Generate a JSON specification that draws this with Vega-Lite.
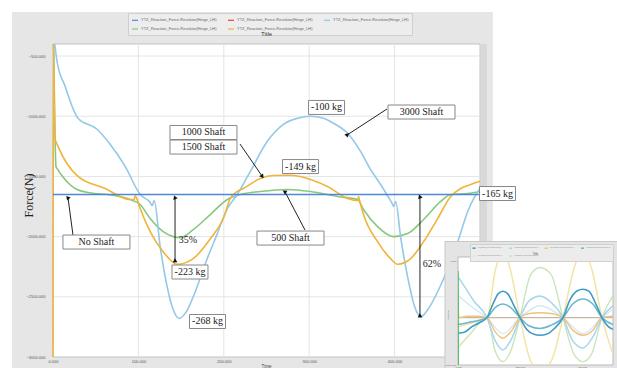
{
  "$schema": "https://vega.github.io/schema/vega-lite/v6.json",
  "background": "white",
  "padding": {"left": 12, "top": 11, "right": 0, "bottom": 0},
  "autosize": {"type": "pad"},
  "config": {"view": {"stroke": null}, "font": "Liberation Sans"},
  "datasets": {
    "curves": [
      {"s": "500 Shaft", "t": 0.8, "f": -400}, {"s": "500 Shaft", "t": 3.5, "f": -1417}, {"s": "500 Shaft", "t": 4.7, "f": -1433},
      {"s": "500 Shaft", "t": 14.1, "f": -1525}, {"s": "500 Shaft", "t": 28.2, "f": -1608}, {"s": "500 Shaft", "t": 49.3, "f": -1642},
      {"s": "500 Shaft", "t": 63.3, "f": -1650}, {"s": "500 Shaft", "t": 90.3, "f": -1692}, {"s": "500 Shaft", "t": 102.1, "f": -1733},
      {"s": "500 Shaft", "t": 113.8, "f": -1850}, {"s": "500 Shaft", "t": 129, "f": -1958}, {"s": "500 Shaft", "t": 140.8, "f": -2000},
      {"s": "500 Shaft", "t": 149, "f": -2008}, {"s": "500 Shaft", "t": 164.2, "f": -1942}, {"s": "500 Shaft", "t": 184.2, "f": -1817},
      {"s": "500 Shaft", "t": 204.1, "f": -1692}, {"s": "500 Shaft", "t": 219.4, "f": -1650}, {"s": "500 Shaft", "t": 242.8, "f": -1625},
      {"s": "500 Shaft", "t": 274.5, "f": -1608}, {"s": "500 Shaft", "t": 301.5, "f": -1625}, {"s": "500 Shaft", "t": 333.1, "f": -1667},
      {"s": "500 Shaft", "t": 356.6, "f": -1692}, {"s": "500 Shaft", "t": 363.6, "f": -1775}, {"s": "500 Shaft", "t": 380, "f": -1917},
      {"s": "500 Shaft", "t": 398.8, "f": -2000}, {"s": "500 Shaft", "t": 415.2, "f": -1975}, {"s": "500 Shaft", "t": 434, "f": -1858},
      {"s": "500 Shaft", "t": 454, "f": -1708}, {"s": "500 Shaft", "t": 465.7, "f": -1650}, {"s": "500 Shaft", "t": 485.6, "f": -1642},
      {"s": "500 Shaft", "t": 500, "f": -1625},

      {"s": "3000 Shaft", "t": 2, "f": -400}, {"s": "3000 Shaft", "t": 4.7, "f": -542}, {"s": "3000 Shaft", "t": 14.1, "f": -750},
      {"s": "3000 Shaft", "t": 29.3, "f": -1017}, {"s": "3000 Shaft", "t": 51.6, "f": -1108}, {"s": "3000 Shaft", "t": 66.9, "f": -1233},
      {"s": "3000 Shaft", "t": 84.5, "f": -1417}, {"s": "3000 Shaft", "t": 102.1, "f": -1650}, {"s": "3000 Shaft", "t": 113.8, "f": -1717},
      {"s": "3000 Shaft", "t": 116.1, "f": -1742}, {"s": "3000 Shaft", "t": 118.5, "f": -1700}, {"s": "3000 Shaft", "t": 125.5, "f": -2083},
      {"s": "3000 Shaft", "t": 133.7, "f": -2417}, {"s": "3000 Shaft", "t": 140.8, "f": -2608}, {"s": "3000 Shaft", "t": 147.8, "f": -2680},
      {"s": "3000 Shaft", "t": 156, "f": -2625}, {"s": "3000 Shaft", "t": 166.6, "f": -2458}, {"s": "3000 Shaft", "t": 178.3, "f": -2225},
      {"s": "3000 Shaft", "t": 192.4, "f": -1975}, {"s": "3000 Shaft", "t": 204.1, "f": -1767}, {"s": "3000 Shaft", "t": 215.8, "f": -1650},
      {"s": "3000 Shaft", "t": 231.1, "f": -1458}, {"s": "3000 Shaft", "t": 251, "f": -1208}, {"s": "3000 Shaft", "t": 269.8, "f": -1067},
      {"s": "3000 Shaft", "t": 286.2, "f": -1017}, {"s": "3000 Shaft", "t": 301.5, "f": -1000}, {"s": "3000 Shaft", "t": 316.7, "f": -1017},
      {"s": "3000 Shaft", "t": 328.4, "f": -1058}, {"s": "3000 Shaft", "t": 344.9, "f": -1142}, {"s": "3000 Shaft", "t": 360.1, "f": -1292},
      {"s": "3000 Shaft", "t": 371.8, "f": -1442}, {"s": "3000 Shaft", "t": 383.6, "f": -1567}, {"s": "3000 Shaft", "t": 393, "f": -1675},
      {"s": "3000 Shaft", "t": 397.7, "f": -1733}, {"s": "3000 Shaft", "t": 398.8, "f": -1750}, {"s": "3000 Shaft", "t": 401.2, "f": -1708},
      {"s": "3000 Shaft", "t": 407, "f": -2000}, {"s": "3000 Shaft", "t": 415.2, "f": -2333}, {"s": "3000 Shaft", "t": 423.5, "f": -2583},
      {"s": "3000 Shaft", "t": 430.5, "f": -2667}, {"s": "3000 Shaft", "t": 438.7, "f": -2608}, {"s": "3000 Shaft", "t": 450.4, "f": -2458},
      {"s": "3000 Shaft", "t": 462.2, "f": -2267}, {"s": "3000 Shaft", "t": 474, "f": -2042}, {"s": "3000 Shaft", "t": 485.6, "f": -1792},
      {"s": "3000 Shaft", "t": 493.8, "f": -1667}, {"s": "3000 Shaft", "t": 500, "f": -1600},

      {"s": "1500 Shaft", "t": 0, "f": -3000}, {"s": "1500 Shaft", "t": 0.5, "f": -400}, {"s": "1500 Shaft", "t": 2.3, "f": -1183},
      {"s": "1500 Shaft", "t": 5.9, "f": -1250}, {"s": "1500 Shaft", "t": 29.3, "f": -1500}, {"s": "1500 Shaft", "t": 61, "f": -1600},
      {"s": "1500 Shaft", "t": 90.3, "f": -1692}, {"s": "1500 Shaft", "t": 95, "f": -1692}, {"s": "1500 Shaft", "t": 96.2, "f": -1658},
      {"s": "1500 Shaft", "t": 98.5, "f": -1692}, {"s": "1500 Shaft", "t": 102.1, "f": -1767}, {"s": "1500 Shaft", "t": 113.8, "f": -1958},
      {"s": "1500 Shaft", "t": 129, "f": -2125}, {"s": "1500 Shaft", "t": 145.5, "f": -2230}, {"s": "1500 Shaft", "t": 164.2, "f": -2183},
      {"s": "1500 Shaft", "t": 184.2, "f": -2017}, {"s": "1500 Shaft", "t": 199.4, "f": -1850}, {"s": "1500 Shaft", "t": 207.6, "f": -1683},
      {"s": "1500 Shaft", "t": 215.8, "f": -1625}, {"s": "1500 Shaft", "t": 222.9, "f": -1600}, {"s": "1500 Shaft", "t": 242.8, "f": -1517},
      {"s": "1500 Shaft", "t": 258.1, "f": -1492}, {"s": "1500 Shaft", "t": 274.5, "f": -1490}, {"s": "1500 Shaft", "t": 289.7, "f": -1500},
      {"s": "1500 Shaft", "t": 301.5, "f": -1525}, {"s": "1500 Shaft", "t": 321.4, "f": -1583}, {"s": "1500 Shaft", "t": 344.9, "f": -1683},
      {"s": "1500 Shaft", "t": 354.3, "f": -1700}, {"s": "1500 Shaft", "t": 356.6, "f": -1700}, {"s": "1500 Shaft", "t": 357.8, "f": -1667},
      {"s": "1500 Shaft", "t": 359, "f": -1700}, {"s": "1500 Shaft", "t": 363.6, "f": -1817}, {"s": "1500 Shaft", "t": 380, "f": -2042},
      {"s": "1500 Shaft", "t": 395.3, "f": -2183}, {"s": "1500 Shaft", "t": 403.5, "f": -2230}, {"s": "1500 Shaft", "t": 418.8, "f": -2183},
      {"s": "1500 Shaft", "t": 434, "f": -2042}, {"s": "1500 Shaft", "t": 450.4, "f": -1850}, {"s": "1500 Shaft", "t": 465.7, "f": -1667},
      {"s": "1500 Shaft", "t": 477.4, "f": -1600}, {"s": "1500 Shaft", "t": 489.1, "f": -1567}, {"s": "1500 Shaft", "t": 500, "f": -1540},

      {"s": "No Shaft", "t": 0, "f": -1650}, {"s": "No Shaft", "t": 250, "f": -1650}, {"s": "No Shaft", "t": 500, "f": -1650}
    ],
    "labels": [
      {"text": "1000 Shaft", "t": 176.2, "f": -1135, "box": "long"},
      {"text": "1500 Shaft", "t": 176.2, "f": -1256, "box": "long"},
      {"text": "3000 Shaft", "t": 431.5, "f": -965, "box": "long"},
      {"text": "500 Shaft", "t": 278.1, "f": -2012, "box": "long"},
      {"text": "No Shaft", "t": 50.9, "f": -2045, "box": "long"},
      {"text": "-100 kg", "t": 320.3, "f": -927, "box": "short"},
      {"text": "-149 kg", "t": 289.8, "f": -1418, "box": "short"},
      {"text": "-165 kg", "t": 520.5, "f": -1642, "box": "short"},
      {"text": "-223 kg", "t": 160.4, "f": -2294, "box": "short"},
      {"text": "-268 kg", "t": 180.9, "f": -2705, "box": "short"},
      {"text": "35%", "t": 158.1, "f": -2028, "box": "none"},
      {"text": "62%", "t": 443.8, "f": -2227, "box": "none"}
    ],
    "arrows": [
      {"t": 219.0, "f": -1231, "t2": 244.7, "f2": -1496},
      {"t": 391.1, "f": -940, "t2": 344.3, "f2": -1156},
      {"t": 295.1, "f": -1945, "t2": 271.7, "f2": -1629},
      {"t": 23.4, "f": -1987, "t2": 17.6, "f2": -1679},
      {"t": 142.9, "f": -1679, "t2": 142.9, "f2": -2203},
      {"t": 429.7, "f": -1671, "t2": 429.7, "f2": -2659}
    ],
    "heads": [
      {"head": "a1500", "t": 244.7, "f": -1496},
      {"head": "a3000", "t": 344.3, "f": -1156},
      {"head": "a500", "t": 271.7, "f": -1629},
      {"head": "aNo", "t": 17.6, "f": -1679},
      {"head": "up", "t": 142.9, "f": -1679},
      {"head": "down", "t": 142.9, "f": -2203},
      {"head": "up", "t": 429.7, "f": -1671},
      {"head": "down", "t": 429.7, "f": -2659}
    ],
    "gridX": [{"t": 100}, {"t": 200}, {"t": 300}, {"t": 400}],
    "gridY": [{"f": -500}, {"f": -1000}, {"f": -1500}, {"f": -2000}, {"f": -2500}],
    "inset": [
      {"s": "h", "t": 0, "v": -1640}, {"s": "h", "t": 500, "v": -1640},
      {"s": "d", "t": 0, "v": -1900}, {"s": "d", "t": 40, "v": -1800}, {"s": "d", "t": 93.5, "v": -1640}, {"s": "d", "t": 120, "v": -300},
      {"s": "d", "t": 145, "v": 300}, {"s": "d", "t": 170, "v": -300}, {"s": "d", "t": 200, "v": -1640}, {"s": "d", "t": 235, "v": -2900},
      {"s": "d", "t": 264.5, "v": -3150}, {"s": "d", "t": 300, "v": -2900}, {"s": "d", "t": 338.7, "v": -1640}, {"s": "d", "t": 375, "v": -200},
      {"s": "d", "t": 403, "v": 300}, {"s": "d", "t": 430, "v": -200}, {"s": "d", "t": 464.5, "v": -1640}, {"s": "d", "t": 500, "v": -2700},
      {"s": "f", "t": 0, "v": -2500}, {"s": "f", "t": 40, "v": -2100}, {"s": "f", "t": 93.5, "v": -1640}, {"s": "f", "t": 120, "v": -2600},
      {"s": "f", "t": 145, "v": -2903}, {"s": "f", "t": 170, "v": -2600}, {"s": "f", "t": 200, "v": -1640}, {"s": "f", "t": 235, "v": -400},
      {"s": "f", "t": 264.5, "v": -200}, {"s": "f", "t": 300, "v": -400}, {"s": "f", "t": 338.7, "v": -1640}, {"s": "f", "t": 375, "v": -2700},
      {"s": "f", "t": 403, "v": -2903}, {"s": "f", "t": 430, "v": -2700}, {"s": "f", "t": 464.5, "v": -1640}, {"s": "f", "t": 500, "v": -1000},
      {"s": "k", "t": 0, "v": -1000}, {"s": "k", "t": 40, "v": -1300}, {"s": "k", "t": 93.5, "v": -1640}, {"s": "k", "t": 145, "v": -2100},
      {"s": "k", "t": 200, "v": -1640}, {"s": "k", "t": 264.5, "v": -1300}, {"s": "k", "t": 338.7, "v": -1640}, {"s": "k", "t": 403, "v": -2100},
      {"s": "k", "t": 464.5, "v": -1640}, {"s": "k", "t": 500, "v": -1400},
      {"s": "c", "t": 0, "v": -461}, {"s": "c", "t": 25, "v": -800}, {"s": "c", "t": 50, "v": -1150}, {"s": "c", "t": 93.5, "v": -1640},
      {"s": "c", "t": 120, "v": -2300}, {"s": "c", "t": 145, "v": -2567}, {"s": "c", "t": 170, "v": -2300}, {"s": "c", "t": 200, "v": -1640},
      {"s": "c", "t": 230, "v": -1150}, {"s": "c", "t": 264.5, "v": -1023}, {"s": "c", "t": 300, "v": -1200}, {"s": "c", "t": 338.7, "v": -1640},
      {"s": "c", "t": 370, "v": -2300}, {"s": "c", "t": 403, "v": -2511}, {"s": "c", "t": 435, "v": -2200}, {"s": "c", "t": 464.5, "v": -1640},
      {"s": "c", "t": 500, "v": -1300},
      {"s": "e", "t": 0, "v": -1200}, {"s": "e", "t": 3, "v": -1640}, {"s": "e", "t": 30, "v": -1600}, {"s": "e", "t": 60, "v": -1600},
      {"s": "e", "t": 93.5, "v": -1640}, {"s": "e", "t": 120, "v": -2050}, {"s": "e", "t": 145, "v": -2230}, {"s": "e", "t": 170, "v": -2050},
      {"s": "e", "t": 200, "v": -1640}, {"s": "e", "t": 230, "v": -1520}, {"s": "e", "t": 264.5, "v": -1500}, {"s": "e", "t": 300, "v": -1520},
      {"s": "e", "t": 338.7, "v": -1640}, {"s": "e", "t": 370, "v": -2000}, {"s": "e", "t": 403, "v": -2146}, {"s": "e", "t": 435, "v": -2000},
      {"s": "e", "t": 464.5, "v": -1640}, {"s": "e", "t": 500, "v": -1600},
      {"s": "b", "t": 0, "v": -1837}, {"s": "b", "t": 45, "v": -1760}, {"s": "b", "t": 93.5, "v": -1640}, {"s": "b", "t": 120, "v": -1350},
      {"s": "b", "t": 145, "v": -1247}, {"s": "b", "t": 170, "v": -1350}, {"s": "b", "t": 200, "v": -1640}, {"s": "b", "t": 230, "v": -1880},
      {"s": "b", "t": 264.5, "v": -1950}, {"s": "b", "t": 300, "v": -1860}, {"s": "b", "t": 338.7, "v": -1640}, {"s": "b", "t": 370, "v": -1250},
      {"s": "b", "t": 403, "v": -1107}, {"s": "b", "t": 435, "v": -1250}, {"s": "b", "t": 464.5, "v": -1640}, {"s": "b", "t": 500, "v": -1837},
      {"s": "a", "t": 0, "v": -2089}, {"s": "a", "t": 20, "v": -2060}, {"s": "a", "t": 45, "v": -1900}, {"s": "a", "t": 70, "v": -1780},
      {"s": "a", "t": 93.5, "v": -1640}, {"s": "a", "t": 115, "v": -1200}, {"s": "a", "t": 130, "v": -950}, {"s": "a", "t": 145, "v": -882},
      {"s": "a", "t": 160, "v": -950}, {"s": "a", "t": 178, "v": -1250}, {"s": "a", "t": 200, "v": -1640}, {"s": "a", "t": 222, "v": -1980},
      {"s": "a", "t": 245, "v": -2120}, {"s": "a", "t": 264.5, "v": -2146}, {"s": "a", "t": 285, "v": -2120}, {"s": "a", "t": 310, "v": -1960},
      {"s": "a", "t": 338.7, "v": -1640}, {"s": "a", "t": 360, "v": -1150}, {"s": "a", "t": 385, "v": -870}, {"s": "a", "t": 403, "v": -826},
      {"s": "a", "t": 422, "v": -880}, {"s": "a", "t": 445, "v": -1250}, {"s": "a", "t": 464.5, "v": -1640}, {"s": "a", "t": 485, "v": -1900},
      {"s": "a", "t": 500, "v": -1977},
      {"s": "g", "t": 0, "v": -300}, {"s": "g", "t": 0.5, "v": -3100}
    ]
  },
  "hconcat": [
    {
      "width": 405,
      "height": 313,
      "title": {"text": "Title", "fontSize": 6, "fontWeight": "normal", "color": "#333333", "frame": "group", "anchor": "middle", "offset": -25, "dx": 11},
      "layer": [
        {
          "data": {"values": [{}]},
          "mark": {"type": "rect", "fill": "#e6e6e6", "clip": false},
          "encoding": {
            "x": {"datum": -48, "type": "quantitative",
              "scale": {"domain": [0, 500], "range": [0, 427], "nice": false, "zero": false},
              "axis": {"values": [0, 100, 200, 300, 400], "format": ".3f", "labelFontSize": 4, "labelColor": "#555555",
                "labelPadding": 2, "ticks": false, "domain": false, "grid": false, "labelFlush": false, "labelOverlap": false,
                "title": "Time", "titleFontSize": 4.5, "titleFontWeight": "normal", "titleColor": "#444444",
                "titleX": 213, "titleY": 9, "titleBaseline": "middle", "zindex": 1}},
            "x2": {"datum": 515},
            "y": {"datum": -134, "type": "quantitative",
              "scale": {"domain": [-3000, -400], "nice": false, "zero": false},
              "axis": {"values": [-500, -1000, -1500, -2000, -2500, -3000], "format": ".3f", "labelFontSize": 4, "labelColor": "#555555",
                "labelPadding": 8, "ticks": false, "domain": false, "grid": false, "labelFlush": false, "labelOverlap": false,
                "title": "Force(N)", "titleFont": "Liberation Serif", "titleFontSize": 12, "titleFontWeight": "normal", "titleColor": "#222222",
                "titleX": -25, "titleY": 151, "titleAlign": "center", "titleBaseline": "middle", "zindex": 1}},
            "y2": {"datum": -3250}
          }
        },
        {
          "data": {"values": [{}]},
          "mark": {"type": "rect", "fill": "#d8d8d8", "clip": false},
          "encoding": {
            "x": {"datum": 501.3, "type": "quantitative"}, "x2": {"datum": 508},
            "y": {"datum": -400, "type": "quantitative"}, "y2": {"datum": -3250}
          }
        },
        {
          "data": {"values": [{}]},
          "mark": {"type": "rect", "fill": "white", "stroke": "#c2c2c2", "strokeWidth": 1, "clip": false},
          "encoding": {
            "x": {"datum": 0, "type": "quantitative"}, "x2": {"datum": 500},
            "y": {"datum": -400, "type": "quantitative"}, "y2": {"datum": -3000}
          }
        },
        {
          "data": {"name": "gridX"},
          "mark": {"type": "rule", "stroke": "#e4e4e4", "strokeWidth": 1, "clip": false},
          "encoding": {
            "x": {"field": "t", "type": "quantitative"},
            "y": {"datum": -400, "type": "quantitative"}, "y2": {"datum": -3000}
          }
        },
        {
          "data": {"name": "gridY"},
          "mark": {"type": "rule", "stroke": "#e4e4e4", "strokeWidth": 1, "clip": false},
          "encoding": {
            "y": {"field": "f", "type": "quantitative"},
            "x": {"datum": 0, "type": "quantitative"}, "x2": {"datum": 500}
          }
        },
        {
          "data": {"name": "curves"},
          "mark": {"type": "line", "interpolate": "monotone", "strokeWidth": 1.6, "clip": false},
          "encoding": {
            "x": {"field": "t", "type": "quantitative"},
            "y": {"field": "f", "type": "quantitative"},
            "color": {"field": "s", "type": "nominal",
              "scale": {"domain": ["No Shaft", "500 Shaft", "1000 Shaft", "1500 Shaft", "3000 Shaft"],
                "range": ["#4f86dc", "#86c97c", "#e0453a", "#f0b43a", "#93c8ea"]},
              "legend": {"orient": "none", "legendX": 75, "legendY": -31, "columns": 3, "title": null,
                "symbolType": "stroke", "symbolSize": 36, "symbolStrokeWidth": 1.2, "labelFontSize": 4, "labelColor": "#666666",
                "labelExpr": "'YTZ_Reaction_Force-Revolute(Hinge_LH)'", "labelLimit": 0, "labelOffset": 2,
                "fillColor": "#ededed", "strokeColor": "#cfcfcf", "padding": 3, "rowPadding": 2, "columnPadding": 8}}
          }
        },
        {
          "data": {"name": "arrows"},
          "mark": {"type": "rule", "stroke": "#222222", "strokeWidth": 1, "clip": false},
          "encoding": {
            "x": {"field": "t", "type": "quantitative"}, "y": {"field": "f", "type": "quantitative"},
            "x2": {"field": "t2"}, "y2": {"field": "f2"}
          }
        },
        {
          "data": {"name": "heads"},
          "mark": {"type": "point", "shape": "triangle", "filled": true, "color": "#111111", "size": 22, "opacity": 1, "clip": false},
          "encoding": {
            "x": {"field": "t", "type": "quantitative"}, "y": {"field": "f", "type": "quantitative"},
            "angle": {"field": "head", "type": "nominal",
              "scale": {"domain": ["a1500", "a3000", "a500", "aNo", "up", "down"], "range": [144, 237, 332, 352, 0, 180]},
              "legend": null}
          }
        },
        {
          "data": {"name": "labels"},
          "transform": [{"filter": "datum.box == 'long'"}],
          "mark": {"type": "point", "shape": "M-1,-0.209H1V0.209H-1Z", "size": 4489, "filled": true,
            "fill": "white", "stroke": "#888888", "strokeWidth": 1, "opacity": 1, "clip": false},
          "encoding": {"x": {"field": "t", "type": "quantitative"}, "y": {"field": "f", "type": "quantitative"}}
        },
        {
          "data": {"name": "labels"},
          "transform": [{"filter": "datum.box == 'short'"}],
          "mark": {"type": "point", "shape": "M-1,-0.389H1V0.389H-1Z", "size": 1296, "filled": true,
            "fill": "white", "stroke": "#888888", "strokeWidth": 1, "opacity": 1, "clip": false},
          "encoding": {"x": {"field": "t", "type": "quantitative"}, "y": {"field": "f", "type": "quantitative"}}
        },
        {
          "data": {"name": "labels"},
          "mark": {"type": "text", "font": "Liberation Serif", "fontSize": 10, "color": "#1a1a1a",
            "align": "center", "baseline": "middle", "clip": false},
          "encoding": {
            "x": {"field": "t", "type": "quantitative"}, "y": {"field": "f", "type": "quantitative"},
            "text": {"field": "text"}
          }
        }
      ]
    },
    {
      "vconcat": [
        {
          "width": 1,
          "height": 1,
          "data": {"values": [{}]},
          "mark": {"type": "point", "opacity": 0}
        },
        {
          "width": 155,
          "height": 108,
          "title": {"text": "Title", "fontSize": 3, "fontWeight": "normal", "color": "#444444", "frame": "group", "anchor": "middle", "offset": -14.5},
          "layer": [
            {
              "data": {"values": [{}]},
              "mark": {"type": "rect", "fill": "#e4e4e4", "stroke": "#c8c8c8", "strokeWidth": 1, "clip": false},
              "encoding": {
                "x": {"datum": -42, "type": "quantitative",
                  "scale": {"domain": [0, 500], "nice": false, "zero": false},
                  "axis": {"values": [0, 100, 200, 300, 400, 500], "format": ".3f", "labelFontSize": 2.5, "labelColor": "#666666",
                    "labelPadding": 0.5, "ticks": false, "domain": false, "grid": false, "labelFlush": false, "labelOverlap": false,
                    "title": null, "zindex": 1}},
                "x2": {"datum": 530},
                "y": {"datum": 545, "type": "quantitative",
                  "scale": {"domain": [-3000, 100], "nice": false, "zero": false},
                  "axis": {"values": [0, -500, -1000, -1500, -2000, -2500, -3000], "format": ".3f", "labelFontSize": 2.5, "labelColor": "#666666",
                    "labelPadding": 2, "ticks": false, "domain": false, "grid": false, "labelFlush": false, "labelOverlap": false,
                    "title": "Force(N)", "titleFontSize": 2.5, "titleFontWeight": "normal", "titleColor": "#666666",
                    "titleX": -10, "titleY": 57, "titleAlign": "center", "titleBaseline": "middle", "zindex": 1}},
                "y2": {"datum": -3700}
              }
            },
            {
              "data": {"values": [{}]},
              "mark": {"type": "rect", "fill": "white", "stroke": "#bbbbbb", "strokeWidth": 1, "clip": false},
              "encoding": {
                "x": {"datum": 0, "type": "quantitative"}, "x2": {"datum": 500},
                "y": {"datum": 100, "type": "quantitative"}, "y2": {"datum": -3000}
              }
            },
            {
              "data": {"name": "inset"},
              "mark": {"type": "line", "interpolate": "monotone", "clip": true},
              "encoding": {
                "x": {"field": "t", "type": "quantitative"},
                "y": {"field": "v", "type": "quantitative"},
                "color": {"field": "s", "type": "nominal",
                  "scale": {"domain": ["a", "b", "c", "d", "e", "f", "g", "h", "k"],
                    "range": ["#3d9bc4", "#6cb7cf", "#a9d5ef", "#f3e4a6", "#f0c27c", "#c8e6bb", "#2fc24a", "#c5b89e", "#d2e8f4"]},
                  "legend": {"orient": "none", "legendX": 12, "legendY": -13, "columns": 4, "title": null,
                    "values": ["a", "b", "c", "d", "e", "f"],
                    "symbolType": "stroke", "symbolSize": 9, "symbolStrokeWidth": 0.8, "labelFontSize": 1.3, "labelColor": "#777777",
                    "labelExpr": "'YTZ_Reaction_Force-Revolute(Hinge_LH)'", "labelLimit": 0, "labelOffset": 1,
                    "fillColor": "#ececec", "strokeColor": "#d0d0d0", "padding": 1.5, "rowPadding": 1, "columnPadding": 2.5}},
                "strokeWidth": {"field": "s", "type": "nominal",
                  "scale": {"domain": ["a", "b", "c", "d", "e", "f", "g", "h", "k"], "range": [1.6, 1.3, 1.2, 1, 1.2, 1, 1.8, 1.2, 1]},
                  "legend": null}
              }
            }
          ]
        }
      ],
      "spacing": 212,
      "bounds": "flush",
      "resolve": {"scale": {"color": "independent", "strokeWidth": "independent"}, "legend": {"color": "independent"}}
    }
  ],
  "spacing": 0,
  "bounds": "flush",
  "resolve": {"scale": {"color": "independent", "angle": "independent", "strokeWidth": "independent"}, "legend": {"color": "independent"}}
}
